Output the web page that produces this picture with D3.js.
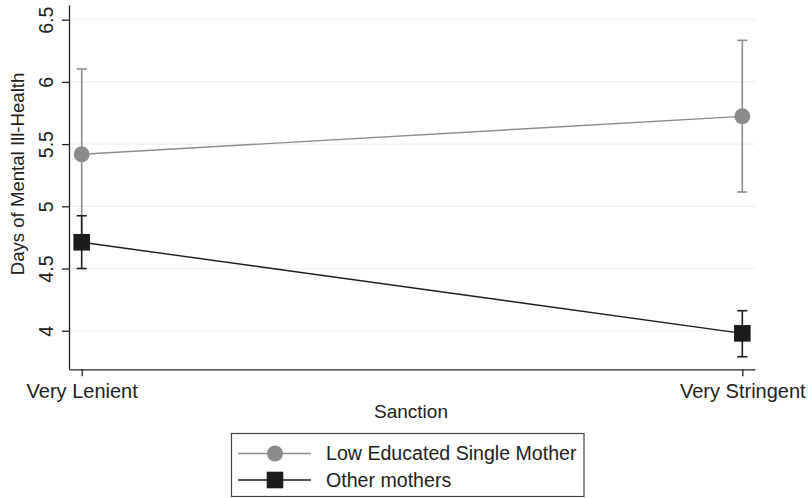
<!DOCTYPE html>
<html><head><meta charset="utf-8">
<script src="https://cdn.jsdelivr.net/npm/d3@7"></script>
<style>body{margin:0;background:#fff;}svg{display:block;font-family:"Liberation Sans",Arial,sans-serif;}</style>
</head><body>
<script>
const categories = ["Very Lenient", "Very Stringent"];
const seriesNames = ["Low Educated Single Mother", "Other mothers"];
const lowEdMean = [5.418, 5.723];
const lowEdLow = [4.73, 5.115];
const lowEdHigh = [6.104, 6.334];
const otherMean = [4.711, 3.979];
const otherLow = [4.50, 3.791];
const otherHigh = [4.924, 4.161];
const yTicks = [4, 4.5, 5, 5.5, 6, 6.5];
const yTickLabels = ["4", "4.5", "5", "5.5", "6", "6.5"];
const xTitle = "Sanction";
const yTitle = "Days of Mental Ill-Health";

const W = 811, H = 498;
const svg = d3.select("body").append("svg").attr("width", W).attr("height", H);

const x = d3.scalePoint().domain(categories).range([69, 755]).padding(0.0192);
const y = d3.scaleLinear().domain([3.69, 6.618]).range([369.3, 5]);

// gridlines
svg.append("g").selectAll("line").data(yTicks).join("line")
  .attr("x1", 69).attr("x2", 755)
  .attr("y1", d => y(d)).attr("y2", d => y(d))
  .attr("stroke", "#efefef").attr("stroke-width", 1.2);

// y axis
const yAxis = svg.append("g").attr("transform", "translate(69,0)")
  .call(d3.axisLeft(y).tickValues(yTicks).tickFormat((d,i) => yTickLabels[i]).tickSize(7).tickSizeOuter(0));
yAxis.select(".domain").attr("stroke", "#222").attr("stroke-width", 1.3);
yAxis.selectAll(".tick line").attr("stroke", "#222").attr("stroke-width", 1.3);
yAxis.selectAll(".tick text")
  .attr("x", 0).attr("dy", null)
  .attr("transform", "translate(-16,0) rotate(-90)")
  .attr("text-anchor", "middle")
  .attr("y", 0)
  .style("font-size", "19.6px").attr("fill", "#222")
  .attr("font-family", "Liberation Sans, Arial, sans-serif");

// x axis
const xAxis = svg.append("g").attr("transform", "translate(0,369.3)")
  .call(d3.axisBottom(x).tickSize(7).tickSizeOuter(0));
xAxis.select(".domain").attr("stroke", "#222").attr("stroke-width", 1.3);
xAxis.selectAll(".tick line").attr("stroke", "#222").attr("stroke-width", 1.3);
xAxis.selectAll(".tick text").attr("y", 28.7).attr("dy", null)
  .style("font-size", "20px").attr("fill", "#222")
  .attr("font-family", "Liberation Sans, Arial, sans-serif");

// titles
svg.append("text").attr("x", 411).attr("y", 418).attr("text-anchor", "middle")
  .style("font-size", "19px").attr("fill", "#222").text(xTitle);
svg.append("text").attr("transform", "translate(24,174) rotate(-90)").attr("text-anchor", "middle")
  .style("font-size", "18.6px").attr("fill", "#222").text(yTitle);

function drawSeries(mean, lo, hi, color, marker) {
  const g = svg.append("g");
  const pts = categories.map((c, i) => ({c, m: mean[i], lo: lo[i], hi: hi[i]}));
  g.append("path").datum(pts)
    .attr("d", d3.line().x(d => x(d.c)).y(d => y(d.m)))
    .attr("fill", "none").attr("stroke", color).attr("stroke-width", 1.4);
  pts.forEach(d => {
    g.append("line").attr("x1", x(d.c)).attr("x2", x(d.c)).attr("y1", y(d.lo)).attr("y2", y(d.hi))
      .attr("stroke", color).attr("stroke-width", 1.6);
    [d.lo, d.hi].forEach(v => g.append("line")
      .attr("x1", x(d.c) - 5).attr("x2", x(d.c) + 5).attr("y1", y(v)).attr("y2", y(v))
      .attr("stroke", color).attr("stroke-width", 1.6));
  });
  pts.forEach(d => {
    if (marker === "circle") {
      g.append("circle").attr("cx", x(d.c)).attr("cy", y(d.m)).attr("r", 8).attr("fill", color);
    } else {
      g.append("rect").attr("x", x(d.c) - 8.3).attr("y", y(d.m) - 8.3).attr("width", 16.6).attr("height", 16.6).attr("fill", color);
    }
  });
}
const grayC = "#8c8c8c", blackC = "#1c1c1c";
drawSeries(lowEdMean, lowEdLow, lowEdHigh, grayC, "circle");
drawSeries(otherMean, otherLow, otherHigh, blackC, "square");

// legend
const lg = svg.append("g");
lg.append("rect").attr("x", 231.5).attr("y", 433.5).attr("width", 352.5).attr("height", 63)
  .attr("fill", "#fff").attr("stroke", "#444").attr("stroke-width", 1.2);
const legItems = [{name: seriesNames[0], color: grayC, marker: "circle", yy: 453.5},
                  {name: seriesNames[1], color: blackC, marker: "square", yy: 480}];
legItems.forEach(it => {
  lg.append("line").attr("x1", 238).attr("x2", 311).attr("y1", it.yy).attr("y2", it.yy)
    .attr("stroke", it.color).attr("stroke-width", 1.4);
  if (it.marker === "circle") lg.append("circle").attr("cx", 275).attr("cy", it.yy).attr("r", 8).attr("fill", it.color);
  else lg.append("rect").attr("x", 266.7).attr("y", it.yy - 8.3).attr("width", 16.6).attr("height", 16.6).attr("fill", it.color);
  lg.append("text").attr("x", 326).attr("y", it.yy).attr("dy", "0.35em")
    .style("font-size", "19.6px").attr("fill", "#222").text(it.name);
});
</script>
</body></html>
